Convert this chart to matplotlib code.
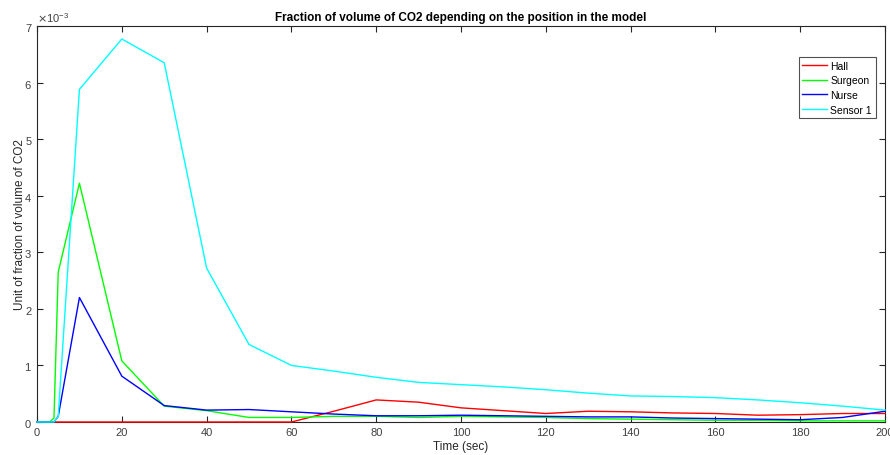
import matplotlib
matplotlib.use("Agg")
import matplotlib.pyplot as plt

# time samples (sec)
time_s = [0, 1, 2, 3, 4, 5, 10, 20, 30, 40, 50, 60, 70, 80, 90, 100,
          110, 120, 130, 140, 150, 160, 170, 180, 190, 200]

# CO2 volume fraction values (in units of 1e-3)
hall = [0, 0, 0, 0, 0, 0, 0, 0, 0, 0, 0, 0, 0.19, 0.39, 0.35, 0.25,
        0.20, 0.15, 0.19, 0.18, 0.16, 0.15, 0.12, 0.13, 0.15, 0.15]
surgeon = [0, 0, 0, 0, 0.07, 2.65, 4.22, 1.08, 0.28, 0.20, 0.08, 0.08, 0.10, 0.10, 0.08, 0.10,
           0.09, 0.08, 0.06, 0.05, 0.04, 0.03, 0.03, 0.02, 0.02, 0.02]
nurse = [0, 0, 0, 0, 0, 0.10, 2.20, 0.81, 0.29, 0.21, 0.22, 0.18, 0.14, 0.11, 0.11, 0.12,
         0.11, 0.10, 0.09, 0.09, 0.07, 0.06, 0.05, 0.04, 0.08, 0.19]
sensor1 = [0, 0, 0, 0, 0, 0.10, 5.88, 6.77, 6.35, 2.72, 1.37, 1.00, 0.90, 0.79, 0.70, 0.66,
           0.62, 0.57, 0.51, 0.46, 0.45, 0.43, 0.39, 0.34, 0.28, 0.21]

series = [("Hall", hall, "#ff0000"),
          ("Surgeon", surgeon, "#00ff00"),
          ("Nurse", nurse, "#0000ff"),
          ("Sensor 1", sensor1, "#00ffff")]

plt.rcParams['font.family'] = ['Liberation Sans', 'DejaVu Sans']

fig = plt.figure(figsize=(8.9, 4.56), dpi=100)
ax = fig.add_axes([0.0416, 0.0724, 0.9528, 0.8684])

for name, vals, col in series:
    ax.plot(time_s, [v * 1e-3 for v in vals], color=col, linewidth=1.0,
            label=name, clip_on=False, zorder=3)

ax.set_xlim(0, 200)
ax.set_ylim(0, 7e-3)
ax.set_xticks(range(0, 201, 20))
ax.set_yticks([i * 1e-3 for i in range(8)])
ax.ticklabel_format(axis='y', style='sci', scilimits=(-3, -3), useMathText=True)

grey = "#262626"
for sp in ax.spines.values():
    sp.set_color(grey)
    sp.set_linewidth(0.8)
ax.tick_params(direction='in', top=True, right=True, colors=grey,
               labelsize=8, length=4, width=0.8, labelcolor="#404040")
ax.yaxis.get_offset_text().set_fontsize(8)
ax.yaxis.get_offset_text().set_color("#404040")

ax.set_xlabel("Time (sec)", fontsize=8.5, color="#262626", labelpad=2)
ax.set_ylabel("Unit of fraction of volume of CO2", fontsize=8.5, color="#262626", labelpad=-1)
ax.set_title("Fraction of volume of CO2 depending on the position in the model",
             fontsize=8.5, fontweight='bold', pad=4)

leg = ax.legend(loc='upper right', bbox_to_anchor=(0.989, 0.922), borderaxespad=0,
                fontsize=7.5, frameon=True, fancybox=False, edgecolor=grey,
                handlelength=2.4, borderpad=0.35, labelspacing=0.45, handletextpad=0.3)
leg.get_frame().set_linewidth(0.8)

fig.savefig("out.png", dpi=100)
